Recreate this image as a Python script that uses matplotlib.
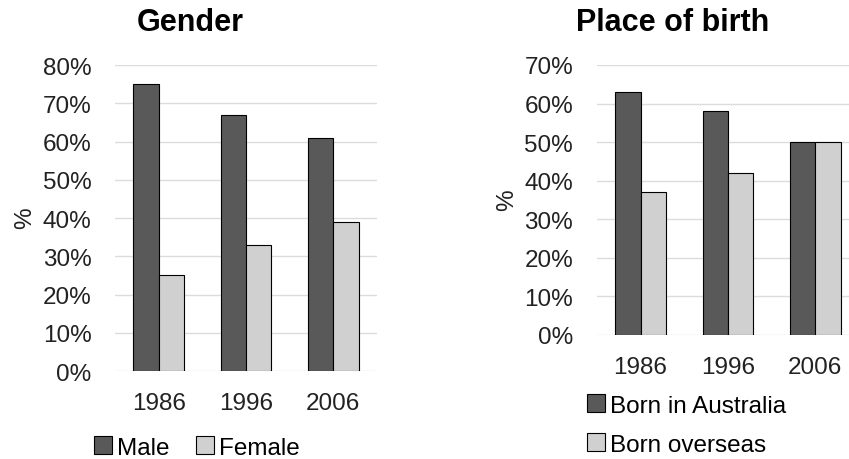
import numpy as np
import matplotlib
matplotlib.use("Agg")
import matplotlib.pyplot as plt
from matplotlib.ticker import PercentFormatter

plt.rcParams["font.family"] = ["Liberation Sans", "DejaVu Sans"]

years = ["1986", "1996", "2006"]

male = [75, 67, 61]
female = [25, 33, 39]

born_australia = [63, 58, 50]
born_overseas = [37, 42, 50]

DARK = "#595959"
LIGHT = "#d0d0d0"
GRID = "#dcdcdc"
TXT = "#222222"
FS = 17.5

fig = plt.figure(figsize=(8.49, 4.6), dpi=100)

ax1 = fig.add_axes([0.1355, 0.1913, 0.3086, 0.665])
ax2 = fig.add_axes([0.703, 0.2696, 0.3086, 0.587])

x = np.arange(len(years))
w = 0.29


def draw(ax, a, b, la, lb, top, title):
    ax.bar(x - w / 2, a, w, color=DARK, edgecolor="black", linewidth=0.8, label=la, zorder=3)
    ax.bar(x + w / 2, b, w, color=LIGHT, edgecolor="black", linewidth=0.8, label=lb, zorder=3)
    ax.set_xlim(-0.5, 2.5)
    ax.set_ylim(0, top)
    ax.set_yticks(np.arange(0, top + 1, 10))
    ax.yaxis.set_major_formatter(PercentFormatter(decimals=0))
    ax.set_xticks(x)
    ax.set_xticklabels(years)
    ax.tick_params(length=0, labelsize=FS, colors=TXT)
    ax.tick_params(axis="x", pad=15)
    ax.tick_params(axis="y", pad=17)
    ax.grid(axis="y", color=GRID, linewidth=1, zorder=0)
    for s in ax.spines.values():
        s.set_visible(False)
    ax.set_ylabel("%", fontsize=FS, color=TXT)
    ax.yaxis.set_label_coords(-0.30, 0.503)
    ax.set_title(title, fontsize=22, fontweight="bold", pad=25, x=0.288)


draw(ax1, male, female, "Male", "Female", 80, "Gender")
draw(ax2, born_australia, born_overseas, "Born in Australia", "Born overseas", 70, "Place of birth")

ax1.legend(loc="center", bbox_to_anchor=(0.232, 0.025), bbox_transform=fig.transFigure,
           ncol=2, frameon=False, fontsize=FS, handlelength=0.75, handleheight=0.75,
           handletextpad=0.2, columnspacing=1.1, borderpad=0)

ax2.legend(loc="center left", bbox_to_anchor=(0.677, 0.074), bbox_transform=fig.transFigure,
           ncol=1, frameon=False, fontsize=FS, handlelength=0.75, handleheight=0.75,
           handletextpad=0.2, labelspacing=0.68, borderpad=0)

fig.savefig("out.png", dpi=100)
